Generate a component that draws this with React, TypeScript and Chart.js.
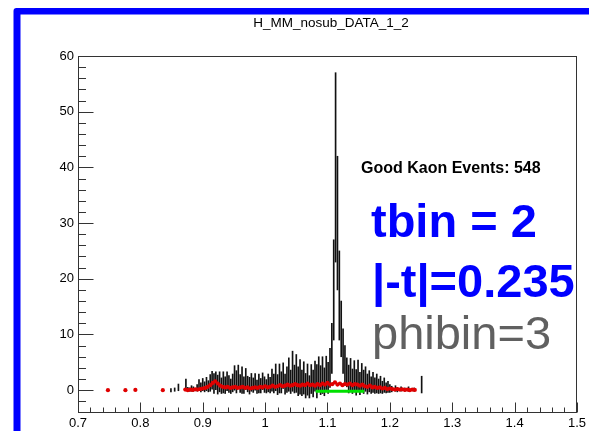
import React, { useEffect, useRef } from "react";
import { Chart, registerables } from "chart.js";

Chart.register(...registerables);

const TITLE = "H_MM_nosub_DATA_1_2";
const INFO_TEXT = "Good Kaon Events: 548";
const TBIN_TEXT = "tbin = 2";
const T_TEXT = "|-t|=0.235";
const PHI_TEXT = "phibin=3";

const X_MIN = 0.7;
const X_MAX = 1.5;
const Y_MIN = -4.1;
const Y_MAX = 60;
const X_TICKS = [0.7, 0.8, 0.9, 1.0, 1.1, 1.2, 1.3, 1.4, 1.5];
const Y_TICKS = [0, 10, 20, 30, 40, 50, 60];

// black histogram (value ± error), bins of 0.003 starting at 0.840
const BLACK_START = 0.84;
const BLACK_WIDTH = 0.003;
const blackValues: (number | null)[] = [
  null, null, null, 0, null, 0.1, null, 0.5, null, null,
  null, 1.0, 0.2, 0.1, 0.3, 0.2, null, 0.4, 0.9, 0.5,
  1.0, 0.6, 1.1, 0.7, 1.3, 1.8, 1.2, 1.7, 1.0, 1.5,
  0.8, 1.4, 0.9, 1.6, 1.1, 0.7, 1.3, 2.2, 1.5, 2.4,
  1.2, 1.8, 0.9, 2.0, 1.1, 0.8, 1.4, 0.9, 1.5, 0.6,
  1.2, 0.8, 1.6, 1.0, 0.7, 1.3, 0.9, 1.8, 1.2, 2.3,
  1.0, 2.1, 1.4, 2.6, 1.1, 1.9, 2.8, 1.5, 3.4, 2.0,
  3.0, 1.6, 2.4, 1.3, 2.2, 0.8, 1.9, 0.6, 2.0, 1.2,
  2.5, 1.6, 2.9, 1.8, 2.7, 1.5, 3.1, 2.2, 4.0, 7.5,
  18, 40, 30, 17, 11, 7, 4.5, 3.2, 2.0, 2.8,
  1.6, 2.5, 1.4, 2.7, 1.2, 2.3, 1.5, 2.0, 1.1, 1.6,
  0.9, 1.4, 0.8, 1.2, 0.7, 1.0, 0.5, 0.9, 0.4, 0.6,
  0.3, 0.2, null, 0.3, 0.1, null, 0.2, null, 0.1, null,
  0.2, null, null, 0.1, null, null, null, 1.0,
];
const blackErrors: (number | null)[] = [
  null, null, null, 0.3, null, 0.3, null, 0.6, null, null,
  null, 1.0, 0.3, 0.3, 0.5, 0.4, null, 0.6, 1.0, 0.8,
  1.1, 0.9, 1.2, 1.0, 1.5, 1.6, 1.8, 1.6, 1.7, 1.8,
  1.4, 1.9, 1.5, 1.7, 1.5, 1.3, 1.6, 2.2, 2.0, 2.1,
  1.6, 2.4, 1.5, 1.9, 1.4, 1.5, 1.6, 1.3, 1.5, 1.2,
  1.7, 1.3, 1.5, 1.4, 1.2, 1.6, 1.4, 2.0, 1.7, 2.4,
  1.8, 2.6, 1.9, 2.3, 1.8, 2.3, 3.0, 2.1, 3.6, 2.5,
  3.4, 2.6, 3.1, 2.3, 2.9, 2.2, 2.8, 2.0, 2.6, 2.4,
  2.7, 3.0, 3.1, 2.6, 3.3, 2.5, 3.0, 2.8, 3.5, 4.5,
  9, 17, 12, 8, 5, 4, 3.5, 2.6, 2.5, 2.9,
  2.2, 2.8, 2.3, 2.7, 2.0, 2.5, 2.1, 2.2, 1.8, 1.9,
  1.5, 1.8, 1.4, 1.7, 1.3, 1.5, 1.1, 1.3, 0.9, 1.0,
  0.7, 0.5, null, 0.5, 0.4, null, 0.4, null, 0.3, null,
  0.4, null, null, 0.3, null, null, null, 1.5,
];

// red histogram, bins of 0.004 starting at 0.748
const RED_START = 0.748;
const RED_WIDTH = 0.004;
const redValues: (number | null)[] = [
  0, null, null, null, null, null, null, 0, null, null,
  null, 0.05, null, null, null, null, null, null, null, null,
  null, null, 0, null, null, null, null, null, null, null,
  null, 0.1, 0.0, 0.1, 0.05, 0.15, 0.1, 0.2, 0.3, 0.4,
  0.6, 0.9, 1.3, 1.6, 1.2, 0.8, 0.6, 0.5, 0.6, 0.4,
  0.5, 0.6, 0.4, 0.5, 0.6, 0.4, 0.5, 0.3, 0.4, 0.5,
  0.4, 0.6, 0.5, 0.7, 0.5, 0.6, 0.8, 0.6, 0.7, 0.9,
  0.7, 0.8, 1.0, 0.8, 0.9, 1.1, 0.9, 0.8, 1.0, 0.9,
  1.2, 0.9, 1.0, 0.8, 1.1, 0.9, 1.2, 1.0, 1.3, 1.0,
  1.1, 1.4, 1.0, 1.2, 0.9, 1.1, 1.0, 1.2, 0.9, 1.1,
  1.0, 0.8, 1.0, 0.7, 0.6, 0.8, 0.5, 0.6, 0.4, 0.5,
  0.3, 0.4, 0.2, 0.3, 0.2, 0.1, 0.2, 0.1, 0.15, 0.05,
  0.1, 0.0, 0.1, 0.05,
];

// green fit line
const greenX = [1.081, 1.159];
const greenY = [-0.2, -0.2];

const FONT = '"Liberation Sans", Arial, Helvetica, sans-serif';

export default function App() {
  const canvasRef = useRef<HTMLCanvasElement | null>(null);

  useEffect(() => {
    const canvas = canvasRef.current;
    if (!canvas) return;

    const blackData: any[] = [];
    blackValues.forEach((v, i) => {
      const e = blackErrors[i];
      if (v === null || e === null) return;
      blackData.push({ x: BLACK_START + i * BLACK_WIDTH, y: [v - e, v + e] });
    });
    const redData: any[] = [];
    redValues.forEach((v, i) => {
      if (v === null) return;
      redData.push({ x: RED_START + i * RED_WIDTH, y: v });
    });
    const greenData = greenX.map((x, i) => ({ x, y: greenY[i] }));

    const decor = {
      id: "decor",
      beforeDraw(chart: any) {
        const ctx = chart.ctx;
        ctx.save();
        ctx.fillStyle = "#0000ff";
        ctx.beginPath();
        ctx.moveTo(13.5, 431);
        ctx.lineTo(13.5, 11);
        ctx.quadraticCurveTo(13.5, 8, 16.5, 8);
        ctx.lineTo(589, 8);
        ctx.lineTo(589, 14.5);
        ctx.lineTo(20.5, 14.5);
        ctx.lineTo(20.5, 431);
        ctx.closePath();
        ctx.fill();
        ctx.fillStyle = "#000";
        ctx.font = `13.5px ${FONT}`;
        ctx.textAlign = "center";
        ctx.textBaseline = "alphabetic";
        ctx.fillText(TITLE, 331, 27);
        ctx.restore();
      },
      afterDraw(chart: any) {
        const ctx = chart.ctx;
        const ca = chart.chartArea;
        const xs = chart.scales.x;
        const ys = chart.scales.y;
        ctx.save();
        ctx.strokeStyle = "#333";
        ctx.lineWidth = 1;
        const l = Math.round(ca.left) + 0.5;
        const r = Math.round(ca.right) - 0.5;
        const t = Math.round(ca.top) + 0.5;
        const b = Math.round(ca.bottom) - 0.5;
        ctx.strokeRect(l, t, r - l, b - t);
        ctx.beginPath();
        for (let k = -2; k <= 30; k++) {
          const v = k * 2;
          const py = Math.round(ys.getPixelForValue(v)) + 0.5;
          const len = v % 10 === 0 ? 15 : 7.5;
          ctx.moveTo(l, py);
          ctx.lineTo(l + len, py);
        }
        for (let k = 0; k <= 40; k++) {
          const v = X_MIN + k * 0.02;
          const px = Math.round(xs.getPixelForValue(v)) + 0.5;
          const len = k % 5 === 0 ? 10 : 5;
          ctx.moveTo(px, b);
          ctx.lineTo(px, b - len);
        }
        ctx.stroke();

        ctx.textAlign = "left";
        ctx.textBaseline = "alphabetic";
        ctx.fillStyle = "#000";
        ctx.font = `bold 16px ${FONT}`;
        ctx.fillText(INFO_TEXT, 361, 173);
        ctx.fillStyle = "#0000ff";
        ctx.font = `bold 47px ${FONT}`;
        ctx.fillText(TBIN_TEXT, 371, 237);
        ctx.fillText(T_TEXT, 372, 297);
        ctx.fillStyle = "#606060";
        ctx.font = `47px ${FONT}`;
        ctx.fillText(PHI_TEXT, 372, 349);
        ctx.restore();
      },
    };

    const chart = new Chart(canvas, {
      type: "bar",
      data: {
        datasets: [
          {
            type: "bar",
            data: blackData,
            backgroundColor: "#111",
            borderWidth: 0,
            barThickness: 1,
            grouped: false,
            order: 3,
          } as any,
          {
            type: "line",
            data: redData,
            showLine: false,
            pointRadius: 2.1,
            pointBackgroundColor: "#e00000",
            pointBorderWidth: 0,
            pointHoverRadius: 0,
            order: 2,
          } as any,
          {
            type: "line",
            data: greenData,
            borderColor: "#00e000",
            borderWidth: 3,
            pointRadius: 0,
            order: 1,
          } as any,
        ],
      },
      options: {
        animation: false,
        responsive: false,
        devicePixelRatio: 1,
        events: [],
        layout: { padding: { left: 0, top: 56, right: 11, bottom: 0 } },
        plugins: {
          legend: { display: false },
          tooltip: { enabled: false },
          title: { display: false },
        },
        scales: {
          x: {
            type: "linear",
            min: X_MIN,
            max: X_MAX,
            offset: false,
            grid: { display: false, drawTicks: false },
            border: { display: false },
            ticks: {
              padding: 3,
              color: "#000",
              font: { family: FONT, size: 13 },
              maxRotation: 0,
              autoSkip: false,
              callback: (v: any) => String(Number(Number(v).toFixed(2))),
            },
            afterBuildTicks: (s: any) => {
              s.ticks = X_TICKS.map((v) => ({ value: v }));
            },
            afterFit: (s: any) => {
              s.height = 18;
            },
          },
          y: {
            type: "linear",
            min: Y_MIN,
            max: Y_MAX,
            grid: { display: false, drawTicks: false },
            border: { display: false },
            ticks: {
              padding: 4,
              color: "#000",
              font: { family: FONT, size: 13 },
              autoSkip: false,
              callback: (v: any) => String(v),
            },
            afterBuildTicks: (s: any) => {
              s.ticks = Y_TICKS.map((v) => ({ value: v }));
            },
            afterFit: (s: any) => {
              s.width = 78;
            },
          },
        },
      } as any,
      plugins: [decor],
    });

    return () => chart.destroy();
  }, []);

  return (
    <div style={{ position: "fixed", left: 0, top: 0, width: 589, height: 431, background: "#fff" }}>
      <canvas ref={canvasRef} width={589} height={431} style={{ display: "block" }} />
    </div>
  );
}
